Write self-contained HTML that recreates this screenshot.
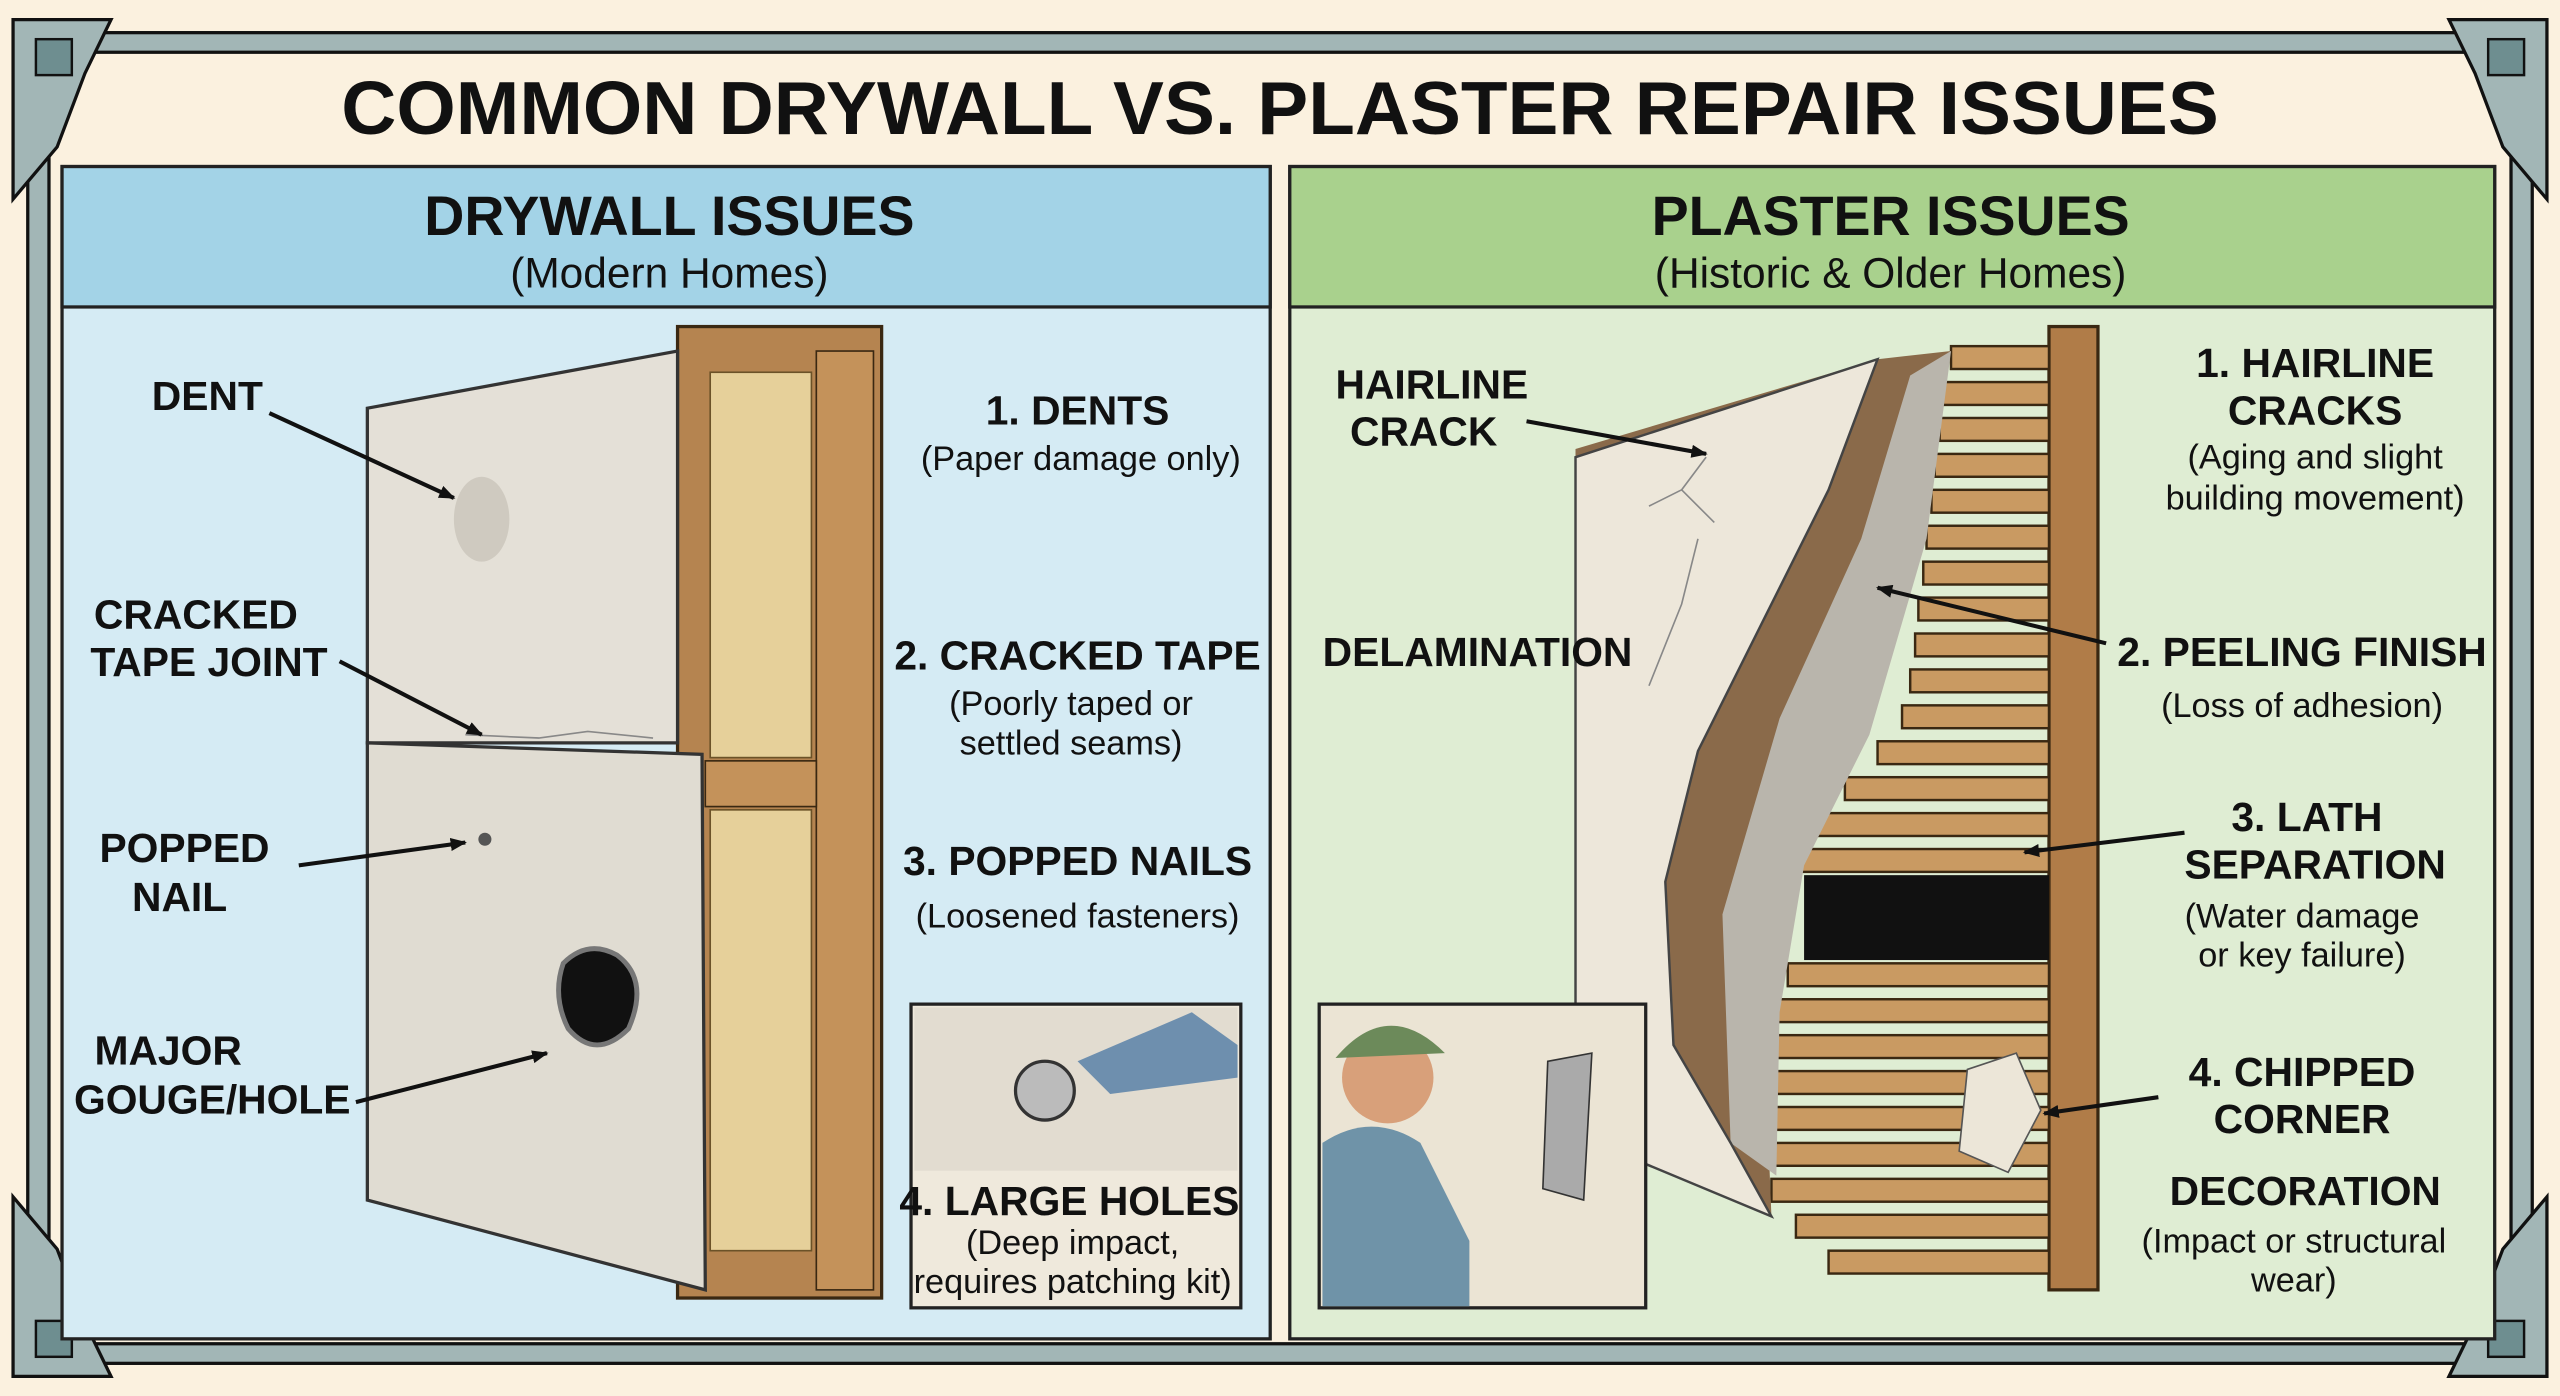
<!DOCTYPE html>
<html><head><meta charset="utf-8"><style>
html,body{margin:0;padding:0;background:#fbf1df;}
svg{display:block;}
text{font-family:"Liberation Sans",sans-serif;font-weight:bold;fill:#111;}
</style></head><body>
<svg width="2560" height="1396" viewBox="0 0 1568 855" preserveAspectRatio="none" xmlns="http://www.w3.org/2000/svg">
<defs><marker id="ah" markerWidth="10" markerHeight="8" refX="9" refY="4" orient="auto" markerUnits="userSpaceOnUse"><path d="M0 0 L10 4 L0 8Z" fill="#111"/></marker></defs>
<rect width="1568" height="855" fill="#fbf1df"/>
<g fill="#a2b6b6" stroke="#111" stroke-width="2">
<rect x="18" y="20" width="1532" height="12"/>
<rect x="18" y="823" width="1532" height="12"/>
<rect x="17" y="20" width="13" height="815"/>
<rect x="1538" y="20" width="13" height="815"/>
</g>
<g fill="#a2b6b6" stroke="#111" stroke-width="2">
<path d="M8 12 L68 12 L52 45 L35 90 L8 122 Z"/>
<path d="M1560 12 L1500 12 L1516 45 L1533 90 L1560 122 Z"/>
<path d="M8 843 L68 843 L52 810 L35 765 L8 733 Z"/>
<path d="M1560 843 L1500 843 L1516 810 L1533 765 L1560 733 Z"/>
</g>
<g fill="#6e8e90" stroke="#111" stroke-width="1.5">
<rect x="22" y="24" width="22" height="22"/>
<rect x="1524" y="24" width="22" height="22"/>
<rect x="22" y="809" width="22" height="22"/>
<rect x="1524" y="809" width="22" height="22"/>
</g>
<text x="784" y="82" font-size="46" text-anchor="middle" textLength="1150" lengthAdjust="spacingAndGlyphs">COMMON DRYWALL VS. PLASTER REPAIR ISSUES</text>
<rect x="38" y="102" width="740" height="718" fill="#d5ebf4" stroke="#222" stroke-width="2"/>
<rect x="38" y="102" width="740" height="86" fill="#a3d3e7" stroke="#222" stroke-width="2"/>
<rect x="790" y="102" width="738" height="718" fill="#dfedd3" stroke="#222" stroke-width="2"/>
<rect x="790" y="102" width="738" height="86" fill="#a9d18d" stroke="#222" stroke-width="2"/>
<text x="410" y="144" font-size="34" text-anchor="middle">DRYWALL ISSUES</text>
<text x="410" y="176" font-size="26" text-anchor="middle" style="font-weight:normal">(Modern Homes)</text>
<text x="1158" y="144" font-size="34" text-anchor="middle">PLASTER ISSUES</text>
<text x="1158" y="176" font-size="26" text-anchor="middle" style="font-weight:normal">(Historic &amp; Older Homes)</text>

<rect x="415" y="200" width="125" height="595" fill="#b58450" stroke="#3a2812" stroke-width="2"/>
<rect x="435" y="228" width="62" height="236" fill="#e6d09a" stroke="#6b5228"/>
<rect x="435" y="496" width="62" height="270" fill="#e6d09a" stroke="#6b5228"/>
<rect x="500" y="215" width="35" height="575" fill="#c4925a" stroke="#3a2812"/>
<rect x="432" y="466" width="68" height="28" fill="#c4925a" stroke="#3a2812"/>
<path d="M225 250 L415 215 L415 455 L225 455 Z" fill="#e4e0d7" stroke="#333" stroke-width="2"/>
<path d="M225 455 L430 462 L432 790 L225 735 Z" fill="#e0dcd2" stroke="#333" stroke-width="2"/>
<ellipse cx="295" cy="318" rx="17" ry="26" fill="#cfcac0"/>
<path d="M345 590 Q360 575 378 585 Q398 600 385 630 Q365 650 348 630 Q338 610 345 590Z" fill="#111" stroke="#777" stroke-width="3"/>
<circle cx="297" cy="514" r="4" fill="#555"/>
<path d="M285 450 L330 452 L360 448 L400 452" stroke="#888" fill="none"/>

<rect x="558" y="615" width="202" height="186" fill="#efe9dc" stroke="#222" stroke-width="2"/>
<rect x="560" y="617" width="198" height="100" fill="#e2dcd0"/>
<circle cx="640" cy="668" r="18" fill="#bbb" stroke="#333" stroke-width="2"/>
<path d="M660 650 L730 620 L758 640 L758 660 L680 670Z" fill="#6e8fae"/>

<g font-size="25">
<text x="127" y="251" text-anchor="middle">DENT</text>
<text x="120" y="385" text-anchor="middle">CRACKED</text>
<text x="128" y="414" text-anchor="middle">TAPE JOINT</text>
<text x="113" y="528" text-anchor="middle">POPPED</text>
<text x="110" y="558" text-anchor="middle">NAIL</text>
<text x="103" y="652" text-anchor="middle">MAJOR</text>
<text x="130" y="682" text-anchor="middle">GOUGE/HOLE</text>
<text x="660" y="260" text-anchor="middle">1. DENTS</text>
<text x="660" y="410" text-anchor="middle">2. CRACKED TAPE</text>
<text x="660" y="536" text-anchor="middle">3. POPPED NAILS</text>
<text x="655" y="744" text-anchor="middle">4. LARGE HOLES</text>
</g>
<g font-size="21" text-anchor="middle">
<text x="662" y="288" style="font-weight:normal">(Paper damage only)</text>
<text x="656" y="438" style="font-weight:normal">(Poorly taped or</text>
<text x="656" y="462" style="font-weight:normal">settled seams)</text>
<text x="660" y="568" style="font-weight:normal">(Loosened fasteners)</text>
<text x="657" y="768" style="font-weight:normal">(Deep impact,</text>
<text x="657" y="792" style="font-weight:normal">requires patching kit)</text>
</g>

<rect x="1255" y="200" width="30" height="590" fill="#b07c48" stroke="#3a2812" stroke-width="2"/>
<g fill="#c99a62" stroke="#3a2812" stroke-width="1.5">
<rect x="1195" y="212" width="60" height="14"/><rect x="1190" y="234" width="65" height="14"/>
<rect x="1188" y="256" width="67" height="14"/><rect x="1185" y="278" width="70" height="14"/>
<rect x="1183" y="300" width="72" height="14"/><rect x="1180" y="322" width="75" height="14"/>
<rect x="1178" y="344" width="77" height="14"/><rect x="1175" y="366" width="80" height="14"/>
<rect x="1173" y="388" width="82" height="14"/><rect x="1170" y="410" width="85" height="14"/>
<rect x="1165" y="432" width="90" height="14"/><rect x="1150" y="454" width="105" height="14"/>
<rect x="1130" y="476" width="125" height="14"/><rect x="1110" y="498" width="145" height="14"/>
<rect x="1100" y="520" width="155" height="14"/>
<rect x="1095" y="590" width="160" height="14"/><rect x="1088" y="612" width="167" height="14"/>
<rect x="1080" y="634" width="175" height="14"/><rect x="1075" y="656" width="180" height="14"/>
<rect x="1070" y="678" width="185" height="14"/><rect x="1075" y="700" width="180" height="14"/>
<rect x="1085" y="722" width="170" height="14"/><rect x="1100" y="744" width="155" height="14"/>
<rect x="1120" y="766" width="135" height="14"/>
</g>
<rect x="1105" y="536" width="150" height="52" fill="#111"/>
<path d="M965 275 L1150 220 L1195 215 L1175 310 L1140 420 L1095 520 L1080 620 L1085 745 L965 695 Z" fill="#8a6a4a"/>
<path d="M1170 230 L1195 215 L1180 330 L1145 450 L1105 530 L1090 620 L1088 720 L1060 700 L1055 560 L1090 440 L1140 330Z" fill="#b9b5ac"/>
<path d="M965 280 L1150 220 L1120 300 L1080 380 L1040 460 L1020 540 L1025 640 L1060 700 L1085 745 L965 695 Z" fill="#ede7da" stroke="#444" stroke-width="1.5"/>
<path d="M1045 280 L1030 300 L1050 320 M1030 300 L1010 310 M1040 330 L1030 370 L1010 420" stroke="#888" fill="none"/>
<path d="M1205 655 L1235 645 L1250 680 L1230 718 L1200 705 Z" fill="#ece6d8" stroke="#555"/>

<rect x="808" y="615" width="200" height="186" fill="#ebe4d4" stroke="#222" stroke-width="2"/>
<path d="M810 800 L810 700 Q840 680 870 700 L900 760 L900 800Z" fill="#6f93a8"/>
<circle cx="850" cy="660" r="28" fill="#d8a07a"/>
<path d="M818 648 Q850 610 885 645 Z" fill="#6c8a5a"/>
<path d="M948 650 L975 645 L970 735 L945 728Z" fill="#aaa" stroke="#333"/>

<g font-size="25">
<text x="877" y="244" text-anchor="middle">HAIRLINE</text>
<text x="872" y="273" text-anchor="middle">CRACK</text>
<text x="905" y="408" text-anchor="middle">DELAMINATION</text>
<text x="1418" y="231" text-anchor="middle">1. HAIRLINE</text>
<text x="1418" y="260" text-anchor="middle">CRACKS</text>
<text x="1410" y="408" text-anchor="middle">2. PEELING FINISH</text>
<text x="1413" y="509" text-anchor="middle">3. LATH</text>
<text x="1418" y="538" text-anchor="middle">SEPARATION</text>
<text x="1410" y="665" text-anchor="middle">4. CHIPPED</text>
<text x="1410" y="694" text-anchor="middle">CORNER</text>
<text x="1412" y="738" text-anchor="middle">DECORATION</text>
</g>
<g font-size="21" text-anchor="middle">
<text x="1418" y="287" style="font-weight:normal">(Aging and slight</text>
<text x="1418" y="312" style="font-weight:normal">building movement)</text>
<text x="1410" y="439" style="font-weight:normal">(Loss of adhesion)</text>
<text x="1410" y="568" style="font-weight:normal">(Water damage</text>
<text x="1410" y="592" style="font-weight:normal">or key failure)</text>
<text x="1405" y="767" style="font-weight:normal">(Impact or structural</text>
<text x="1405" y="791" style="font-weight:normal">wear)</text>
</g>

<g stroke="#111" stroke-width="2.5" marker-end="url(#ah)">
<line x1="165" y1="253" x2="278" y2="305"/>
<line x1="208" y1="405" x2="295" y2="450"/>
<line x1="183" y1="530" x2="285" y2="516"/>
<line x1="218" y1="675" x2="335" y2="645"/>
<line x1="1290" y1="394" x2="1150" y2="360"/>
<line x1="1338" y1="510" x2="1240" y2="522"/>
<line x1="1322" y1="672" x2="1252" y2="682"/>
<line x1="935" y1="258" x2="1045" y2="278"/>
</g>
</svg>
</body></html>
